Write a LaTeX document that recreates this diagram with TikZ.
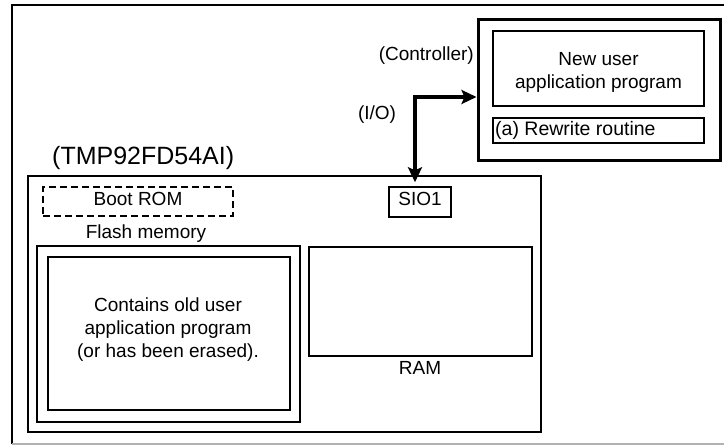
\documentclass[tikz,border=0pt]{standalone}
\usepackage{fontspec}
\setmainfont{Liberation Sans}
\usetikzlibrary{arrows.meta}
\begin{document}
\begin{tikzpicture}[x=1pt,y=-1pt,
  txt/.style={font=\fontsize{19}{23}\selectfont, inner sep=0pt, align=center},
  bigtxt/.style={font=\fontsize{25}{29}\selectfont, inner sep=0pt},
  box/.style={draw, line width=1.5pt, inner sep=0pt},
  io/.style={line width=4pt, {Stealth[length=15pt,width=14pt,inset=3pt]}-{Stealth[length=15pt,width=14pt,inset=3pt]}}
]
\useasboundingbox (0,0) rectangle (724,446);
% outer frame
\draw[line width=2pt] (726,5) -- (12,5) -- (12,444);
\draw[line width=2pt, gray!60] (12,444) -- (726,444);
% controller
\node[box, line width=3pt, minimum width=242pt, minimum height=141pt] (ctrl) at (599,90.5) {};
\node[box, minimum width=211pt, minimum height=75pt] (newapp) at (598.5,68.5) {};
\node[txt] (newtxt) at (598.5,72) {New user\\application program};
\node[box, minimum width=211pt, minimum height=25pt] (rewrite) at (598.5,130.5) {};
\node[txt, anchor=west, font=\fontsize{19.5}{23}\selectfont] (rewtxt) at (495,130) {(a) Rewrite routine};
\node[txt, anchor=east] (ctrllbl) at (474,56) {(Controller)};
\node[txt] (iolbl) at (377,115) {(I/O)};
% chip
\node[bigtxt, anchor=west] (chiplbl) at (52,158) {(TMP92FD54AI)};
\node[box, line width=2pt, minimum width=513pt, minimum height=256pt] (chip) at (284.5,304) {};
\node[box, dash pattern=on 7pt off 4pt, minimum width=190pt, minimum height=29pt] (boot) at (138,201.5) {};
\node[txt] (boottxt) at (138,198.5) {Boot ROM};
\node[box, minimum width=62pt, minimum height=30pt] (sio) at (420,202) {};
\node[txt] (siotxt) at (420,199) {SIO1};
\node[txt] (flashlbl) at (146,234) {Flash memory};
\node[box, line width=2.5pt, minimum width=263pt, minimum height=176pt] (flash) at (168.5,334) {};
\node[box, minimum width=242pt, minimum height=153pt] (flashin) at (169,333.5) {};
\node[txt] (flashtxt) at (168,330) {Contains old user\\application program\\(or has been erased).};
\node[box, line width=2pt, minimum width=223pt, minimum height=109pt] (ram) at (420.5,301.5) {};
\node[txt] (ramtxt) at (420,368) {RAM};
% I/O arrow
\coordinate (bend) at (415,97);
\draw[io, shorten <=4pt] (sio.north -| bend) -- (bend) -- (bend -| ctrl.west);
\end{tikzpicture}
\end{document}
